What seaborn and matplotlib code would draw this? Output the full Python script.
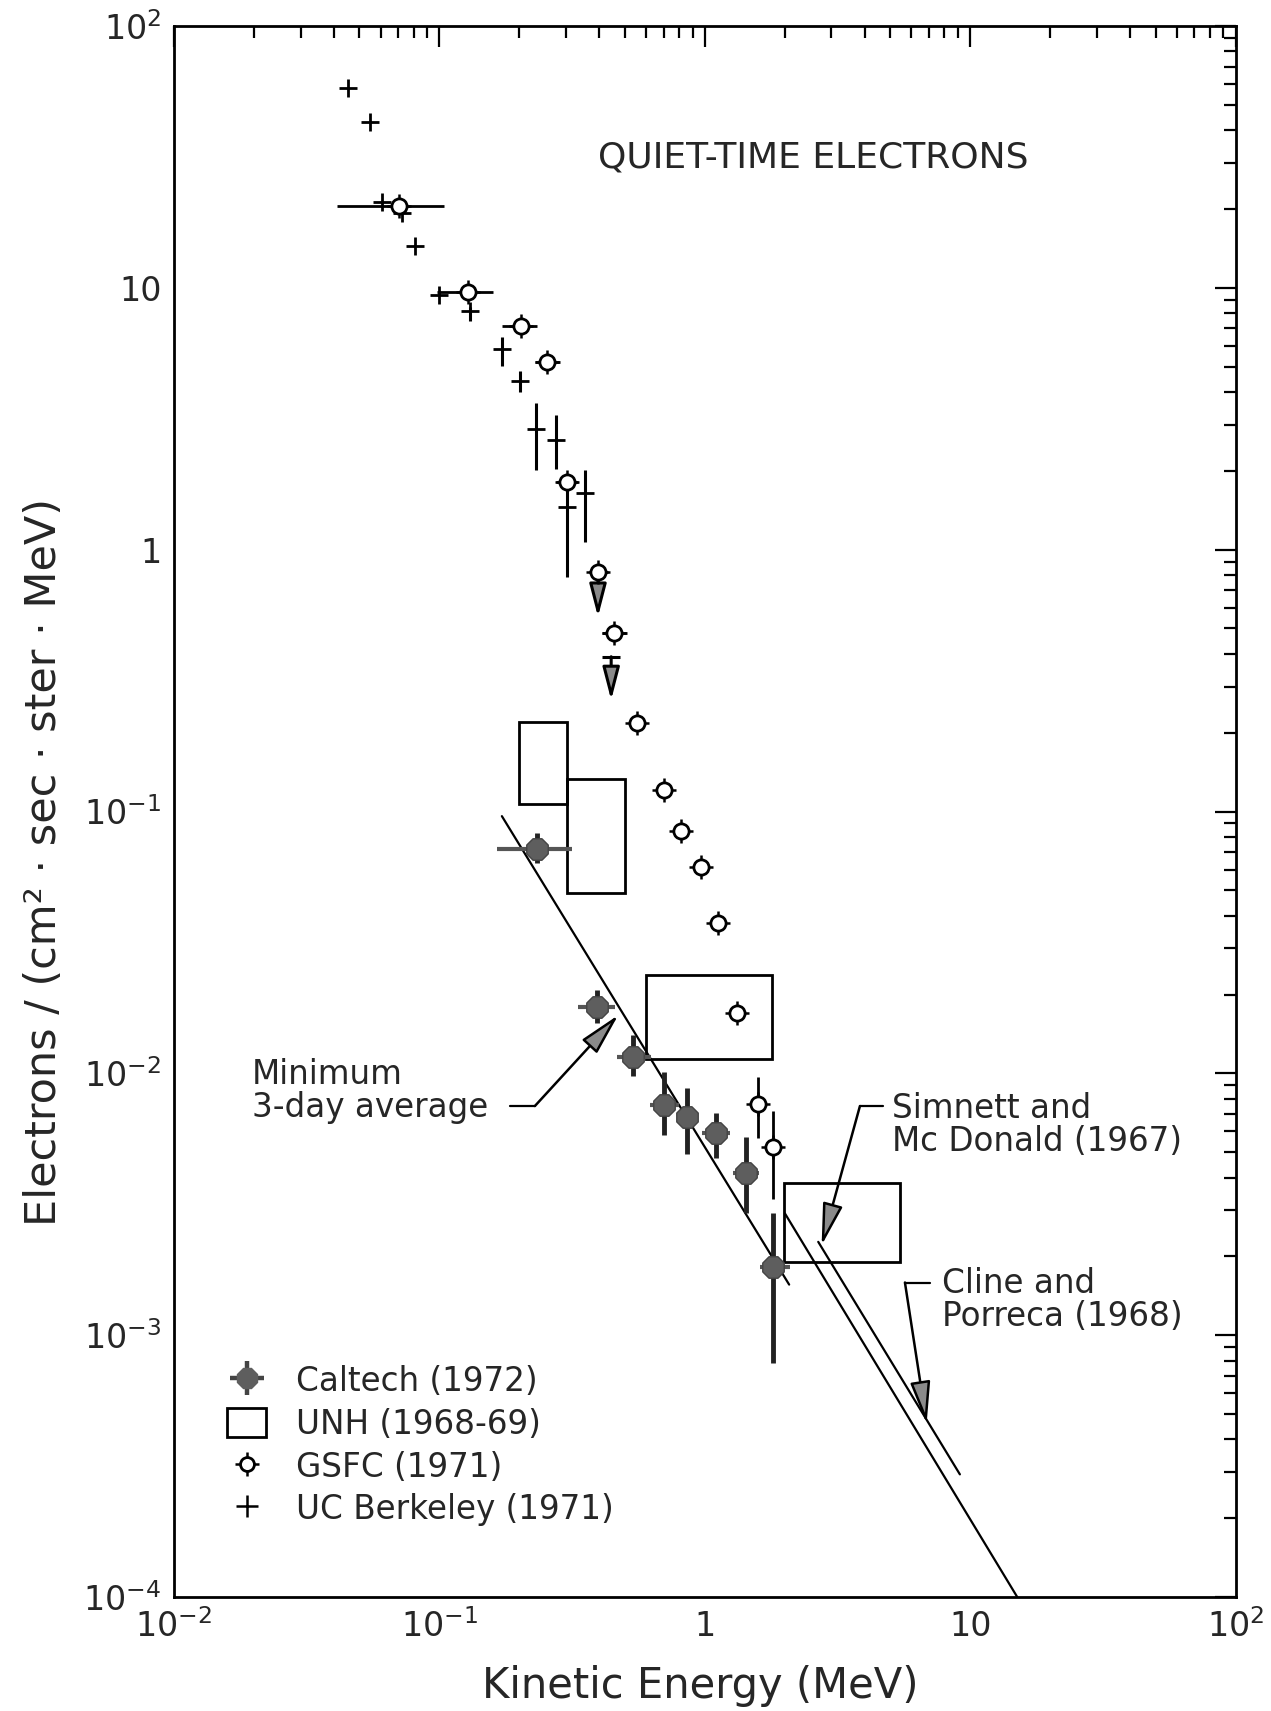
import numpy as np
import pandas as pd
import matplotlib
matplotlib.use("Agg")
import matplotlib.pyplot as plt
import seaborn as sns
from matplotlib.lines import Line2D
from matplotlib.patches import Patch
from matplotlib.ticker import LogLocator, NullFormatter, FixedLocator, FixedFormatter

# ---------------- data ----------------
# UC Berkeley (1971)
berk_E = [0.0453, 0.0550, 0.0607, 0.0723, 0.0812, 0.100, 0.130, 0.172, 0.201, 0.232, 0.276, 0.303, 0.355]
berk_F = [58.2, 43.0, 21.3, 19.3, 14.5, 9.39, 8.15, 5.84, 4.41, 2.88, 2.62, 1.458, 1.641]
berk_F_lo = [58.2, 43.0, 21.3, 19.3, 14.5, 9.39, 7.49, 5.04, 4.01, 2.01, 2.03, 0.788, 1.072]
berk_F_hi = [58.2, 43.0, 21.3, 19.3, 14.5, 9.39, 8.47, 6.47, 4.81, 3.62, 3.27, 1.69, 2.01]
# upper limit (bar with arrow)
berk_ul_E = [0.444]
berk_ul_E_lo = [0.411]
berk_ul_E_hi = [0.481]
berk_ul_F = [0.390]
berk_ul_tip = [0.2665]

# GSFC (1971)
gsfc_E = [0.0703, 0.128, 0.203, 0.254, 0.303, 0.396, 0.454, 0.557, 0.702, 0.816, 0.966, 1.117, 1.32, 1.59, 1.815]
gsfc_F = [20.6, 9.66, 7.15, 5.22, 1.807, 0.823, 0.479, 0.2182, 0.1207, 0.0842, 0.0612, 0.0376, 0.01694, 0.00763, 0.00521]
gsfc_E_lo = [0.0411, 0.098, 0.172, 0.230, 0.276, 0.365, 0.41, 0.557, 0.702, 0.816, 0.966, 1.117, 1.32, 1.59, 1.815]
gsfc_E_hi = [0.1045, 0.159, 0.233, 0.284, 0.333, 0.432, 0.51, 0.557, 0.702, 0.816, 0.966, 1.117, 1.32, 1.59, 1.815]
gsfc_F_lo = [20.6, 9.66, 7.15, 5.22, 1.807, 0.823, 0.479, 0.2182, 0.1207, 0.0842, 0.0612, 0.0376, 0.01694, 0.00564, 0.0033]
gsfc_F_hi = [20.6, 9.66, 7.15, 5.22, 1.807, 0.823, 0.479, 0.2182, 0.1207, 0.0842, 0.0612, 0.0376, 0.01694, 0.0097, 0.00719]
gsfc_ul_E = [0.396]
gsfc_ul_F = [0.823]
gsfc_ul_tip = [0.554]

# Caltech (1972)
cal_E = [0.2336, 0.3936, 0.538, 0.702, 0.855, 1.10, 1.43, 1.815]
cal_F = [0.0719, 0.01795, 0.01156, 0.00756, 0.00682, 0.00590, 0.00417, 0.001824]
cal_E_lo = [0.1655, 0.333, 0.468, 0.62, 0.786, 0.98, 1.28, 1.62]
cal_E_hi = [0.316, 0.4575, 0.625, 0.80, 0.93, 1.25, 1.60, 2.09]
cal_F_lo = [0.0634, 0.0155, 0.00976, 0.00581, 0.00494, 0.00473, 0.00292, 0.00078]
cal_F_hi = [0.0825, 0.0208, 0.0140, 0.01013, 0.00876, 0.00706, 0.00572, 0.00292]

# UNH (1968-69) boxes
unh_E_lo = [0.200, 0.303, 0.603, 1.993]
unh_E_hi = [0.303, 0.500, 1.786, 5.42]
unh_F_lo = [0.1067, 0.0487, 0.0113, 0.001895]
unh_F_hi = [0.2202, 0.1330, 0.0237, 0.00382]

# power-law lines
min_avg_E = [0.172, 2.08]
min_avg_F = [0.0960, 0.00156]
line_a_E = [2.005, 15.05]
line_a_F = [0.002917, 1.0e-4]
line_b_E = [2.677, 9.15]
line_b_F = [0.002272, 0.000294]

# annotations: text anchor, leader segment (x0, x1, y) and arrow tip
ann_text = ["Minimum\n3-day average", "Simnett and\nMc Donald (1967)", "Cline and\nPorreca (1968)"]
ann_text_E = [0.01963, 5.06, 7.81]
ann_text_F = [0.00859, 0.00634, 0.00136]
ann_lead_E0 = [0.1845, 4.706, 7.054]
ann_lead_E1 = [0.229, 3.844, 5.68]
ann_lead_F = [0.0075, 0.0075, 0.001589]
ann_tip_E = [0.472, 2.757, 6.857]
ann_tip_F = [0.01668, 0.002206, 0.00046]

title_text = "QUIET-TIME ELECTRONS"
title_E, title_F = 0.397, 31.5

legend_labels = ["Caltech (1972)", "UNH (1968-69)", "GSFC (1971)", "UC Berkeley (1971)"]

x_ticks = [1e-2, 1e-1, 1, 10, 1e2]
x_ticklabels = [r"$10^{-2}$", r"$10^{-1}$", "1", "10", r"$10^{2}$"]
y_ticks = [1e-4, 1e-3, 1e-2, 1e-1, 1, 10, 1e2]
y_ticklabels = [r"$10^{-4}$", r"$10^{-3}$", r"$10^{-2}$", r"$10^{-1}$", "1", "10", r"$10^{2}$"]

# ---------------- style ----------------
sns.set_style("white")
plt.rcParams["font.family"] = ["DejaVu Sans"]
plt.rcParams["mathtext.fontset"] = "dejavusans"

FS = 23.5
GRAY = "#5e5e5e"
ARROW = dict(arrowstyle="-|>,head_length=1.0,head_width=0.24", mutation_scale=26,
             lw=1.8, fc="#8a8a8a", ec="black", shrinkA=0, shrinkB=0)
UL_ARROW = dict(arrowstyle="-|>,head_length=1.0,head_width=0.26", mutation_scale=20,
                lw=2.2, fc="#8a8a8a", ec="black", shrinkA=0, shrinkB=0)

fig = plt.figure(figsize=(12.71, 17.11), dpi=100)
fig.patch.set_facecolor("white")
ax = fig.add_axes([174 / 1271, 1 - 1597 / 1711, (1235.5 - 174) / 1271, (1597 - 26) / 1711])
ax.set_xscale("log")
ax.set_yscale("log")
ax.set_xlim(1e-2, 1e2)
ax.set_ylim(1e-4, 1e2)

def asym(v, lo, hi):
    v, lo, hi = np.asarray(v), np.asarray(lo), np.asarray(hi)
    return [v - lo, hi - v]

# UNH boxes
ax.bar(unh_E_lo, np.array(unh_F_hi) - np.array(unh_F_lo),
       width=np.array(unh_E_hi) - np.array(unh_E_lo), bottom=unh_F_lo,
       align="edge", fill=False, edgecolor="black", linewidth=2, zorder=2)

# fitted lines
for xs, ys in [(min_avg_E, min_avg_F), (line_a_E, line_a_F), (line_b_E, line_b_F)]:
    sns.lineplot(x=xs, y=ys, color="black", linewidth=1.6, ax=ax, sort=False,
                 estimator=None, zorder=2)

# error bars
ax.errorbar(berk_E, berk_F, yerr=asym(berk_F, berk_F_lo, berk_F_hi), fmt="none",
            ecolor="black", elinewidth=2.2, capsize=0, zorder=2)
ax.errorbar(gsfc_E, gsfc_F, xerr=asym(gsfc_E, gsfc_E_lo, gsfc_E_hi),
            yerr=asym(gsfc_F, gsfc_F_lo, gsfc_F_hi), fmt="none",
            ecolor="black", elinewidth=2.0, capsize=0, zorder=2)
ax.errorbar(cal_E, cal_F, xerr=asym(cal_E, cal_E_lo, cal_E_hi), fmt="none",
            ecolor="#555555", elinewidth=3.0, capsize=0, zorder=3)
ax.errorbar(cal_E, cal_F, yerr=asym(cal_F, cal_F_lo, cal_F_hi), fmt="none",
            ecolor="#222222", elinewidth=3.5, capsize=0, zorder=3)
ax.errorbar(berk_ul_E, berk_ul_F, xerr=asym(berk_ul_E, berk_ul_E_lo, berk_ul_E_hi),
            fmt="none", ecolor="black", elinewidth=2.2, capsize=0, zorder=2)

# upper-limit arrows
for E, f0, f1 in zip(gsfc_ul_E + berk_ul_E, gsfc_ul_F + berk_ul_F, gsfc_ul_tip + berk_ul_tip):
    ax.annotate("", xy=(E, f1), xytext=(E, f0), arrowprops=UL_ARROW, zorder=2)

# markers
berk_df = pd.DataFrame({"E": berk_E, "F": berk_F})
sns.scatterplot(data=berk_df, x="E", y="F", marker="+", s=170, color="black",
                edgecolor="black", linewidth=2.0, ax=ax, legend=False, zorder=4)

gsfc_df = pd.DataFrame({"E": gsfc_E, "F": gsfc_F})
sns.scatterplot(data=gsfc_df, x="E", y="F", marker="+", s=300, color="black",
                edgecolor="black", linewidth=1.8, ax=ax, legend=False, zorder=4)
sns.scatterplot(data=gsfc_df, x="E", y="F", marker="o", s=120, color="white",
                edgecolor="black", linewidth=2.0, ax=ax, legend=False, zorder=5)

cal_df = pd.DataFrame({"E": cal_E, "F": cal_F})
sns.scatterplot(data=cal_df, x="E", y="F", marker="8", s=280, color=GRAY,
                edgecolor="#444444", linewidth=1.0, ax=ax, legend=False, zorder=5)

# annotations
for txt, tE, tF, e0, e1, lf, pE, pF in zip(ann_text, ann_text_E, ann_text_F, ann_lead_E0,
                                           ann_lead_E1, ann_lead_F, ann_tip_E, ann_tip_F):
    ax.text(tE, tF, txt, fontsize=FS, ha="left", va="center", linespacing=1.0, zorder=6)
    ax.plot([e0, e1], [lf, lf], color="black", lw=1.6, zorder=2)
    ax.annotate("", xy=(pE, pF), xytext=(e1, lf), arrowprops=ARROW, zorder=2)

ax.text(title_E, title_F, title_text, fontsize=26, ha="left", va="center")

# axes styling
ax.xaxis.set_major_locator(FixedLocator(x_ticks))
ax.xaxis.set_major_formatter(FixedFormatter(x_ticklabels))
ax.yaxis.set_major_locator(FixedLocator(y_ticks))
ax.yaxis.set_major_formatter(FixedFormatter(y_ticklabels))
for axis in (ax.xaxis, ax.yaxis):
    axis.set_minor_locator(LogLocator(base=10, subs=np.arange(2, 10), numticks=100))
    axis.set_minor_formatter(NullFormatter())
ax.tick_params(which="both", direction="in", top=True, right=True, width=1.6, color="black")
ax.tick_params(which="major", length=15, labelsize=24, pad=9)
ax.tick_params(which="minor", length=8.5)
for sp in ax.spines.values():
    sp.set_linewidth(2.0)
    sp.set_color("black")

ax.set_xlabel("Kinetic Energy (MeV)", fontsize=30, va="center")
ax.xaxis.set_label_coords(0.4955, -0.0567)
ax.set_ylabel("Electrons / (cm² · sec · ster · MeV)", fontsize=31, ha="center", va="center")
ax.yaxis.set_label_coords(-0.1225, 0.468)

# legend
h_cal = (Line2D([], [], ls="", marker="+", ms=24, mew=3.2, color="#444444"),
         Line2D([], [], ls="", marker="8", ms=15, color=GRAY))
h_unh = Patch(facecolor="none", edgecolor="black", linewidth=2)
h_gsfc = (Line2D([], [], ls="", marker="+", ms=17, mew=1.8, color="black"),
          Line2D([], [], ls="", marker="o", ms=10, mfc="white", mec="black", mew=2))
h_berk = Line2D([], [], ls="", marker="+", ms=16, mew=1.8, color="black")
ax.legend([h_cal, h_unh, h_gsfc, h_berk], legend_labels, loc="upper left",
          bbox_to_anchor=(0.0499, 0.1477), frameon=False, fontsize=FS,
          handlelength=1.2, handleheight=1.0, handletextpad=0.9,
          labelspacing=0.3, borderaxespad=0, borderpad=0)

fig.savefig("out.png", dpi=100, facecolor="white")
